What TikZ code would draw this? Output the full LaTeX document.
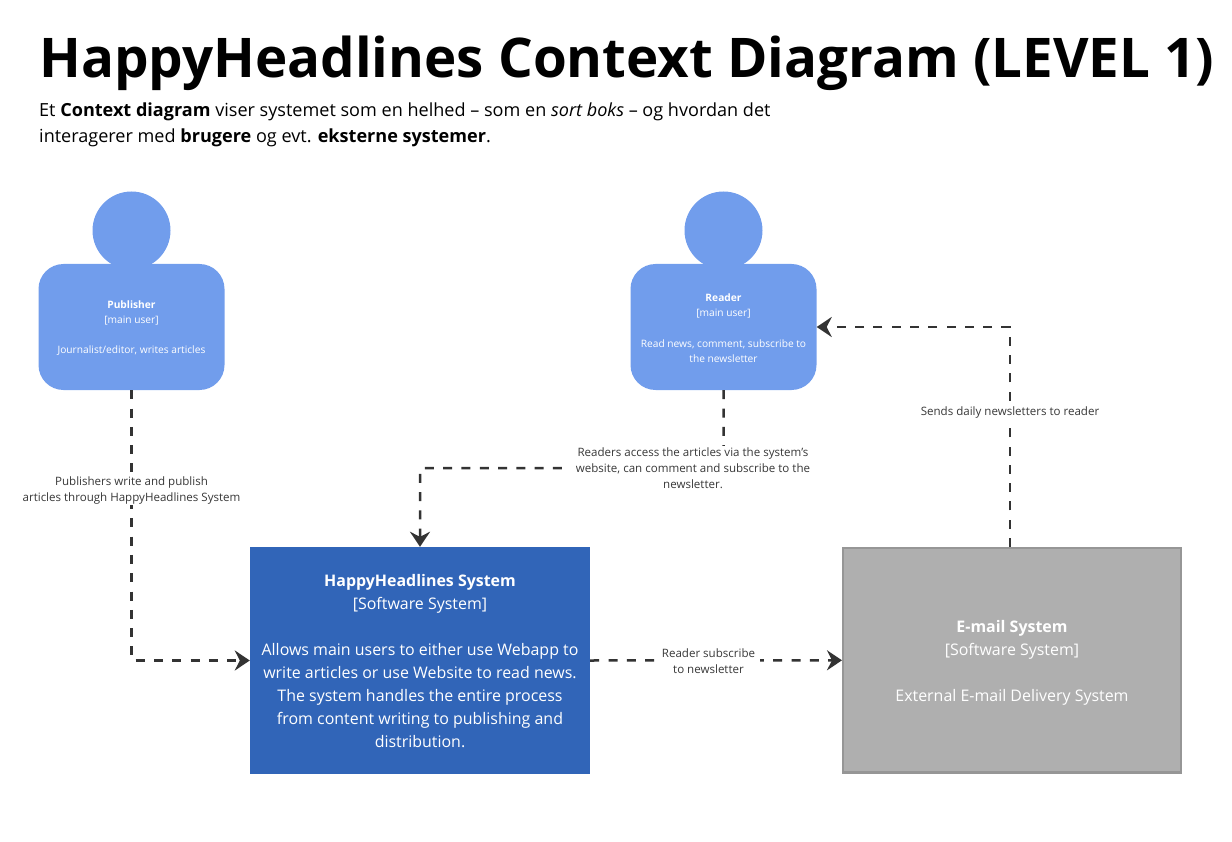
\documentclass[tikz,border=0pt]{standalone}
\usepackage{fontspec}
\setmainfont{Open Sans}
\usetikzlibrary{arrows.meta}
\definecolor{personblue}{HTML}{719DEC}
\definecolor{sysblue}{HTML}{3165B8}
\definecolor{extgray}{HTML}{AFAFAF}
\definecolor{extedge}{HTML}{969696}
\definecolor{connc}{HTML}{333333}
\tikzset{
  x=1pt,y=-1pt,
  head/.style={circle,fill=personblue,minimum size=78pt,inner sep=0pt},
  bodybox/.style={rectangle,rounded corners=25pt,fill=personblue,minimum width=186pt,minimum height=126pt,inner sep=0pt},
  persontext/.style={text=white,align=center,font=\fontsize{10.2}{15.2}\selectfont},
  sysbox/.style={rectangle,fill=sysblue,minimum width=340pt,minimum height=227pt,inner sep=0pt},
  extbox/.style={rectangle,fill=extgray,draw=extedge,line width=2.4pt,minimum width=337.6pt,minimum height=224.6pt,inner sep=0pt},
  boxtext/.style={text=white,align=center,font=\fontsize{15.95}{23}\selectfont},
  conn/.style={draw=connc,line width=2.5pt,dash pattern=on 9pt off 9.3pt,-{Stealth[length=15pt,width=20pt,inset=5pt]}},
  linklabel/.style={fill=white,text=black!78,align=center,inner xsep=5pt,inner ysep=1.5pt,font=\fontsize{11.55}{16}\selectfont},
  titletext/.style={anchor=base west,inner sep=0pt,font=\fontsize{54.7}{60}\bfseries\selectfont},
  subtext/.style={anchor=north west,inner sep=0pt,align=left,font=\fontsize{18.07}{26}\selectfont}
}
\begin{document}
\begin{tikzpicture}
\useasboundingbox (0,0) rectangle (1232,842);
\node[titletext] (title) at (39,78) {HappyHeadlines Context Diagram (LEVEL 1)};
\node[subtext] (sub) at (39,103) {Et \textbf{Context diagram} viser systemet som en helhed – som en \textit{sort boks} – og hvordan det\\interagerer med \textbf{brugere} og evt. \textbf{eksterne systemer}.};

\node[head] (pubhead) at (131.5,230.5) {};
\node[bodybox] (pubbody) at (131.5,327) {};
\node[persontext] (pubtext) at (131.5,328) {\textbf{Publisher}\\{[main user]}\\[15.2pt]Journalist/editor, writes articles};

\node[head] (rdhead) at (723.5,230.5) {};
\node[bodybox] (rdbody) at (723.5,327) {};
\node[persontext] (rdtext) at (723.5,328) {\textbf{Reader}\\{[main user]}\\[15.2pt]Read news, comment, subscribe to\\the newsletter};

\node[sysbox] (sys) at (420,660.5) {};
\node[boxtext] (systext) at (420,661.5) {\textbf{HappyHeadlines System}\\{[Software System]}\\[23pt]Allows main users to either use Webapp to\\write articles or use Website to read news.\\The system handles the entire process\\from content writing to publishing and\\distribution.};
\node[extbox] (email) at (1012,660.3) {};
\node[boxtext] (emailtext) at (1012,663) {\textbf{E-mail System}\\{[Software System]}\\[23pt]External E-mail Delivery System};

\coordinate (bend) at (420,468);
\coordinate (mailout) at (1010,547);

\draw[conn] (pubbody.south) |- (sys.west);
\draw[conn,rounded corners=3pt] (rdbody.south) |- (bend) -- (sys.north);
\draw[conn] (sys.east) -- (email.west);
\draw[conn] (mailout) |- (rdbody.east);

\node[linklabel] (l1) at (131.5,490) {Publishers write and publish\\articles through HappyHeadlines System};
\node[linklabel,inner xsep=10pt] (l2) at (693,468) {Readers access the articles via the system's\\website, can comment and subscribe to the\\newsletter.};
\node[linklabel] (l3) at (708.5,661) {Reader subscribe\\to newsletter};
\node[linklabel] (l4) at (1010,412) {Sends daily newsletters to reader};
\end{tikzpicture}
\end{document}
